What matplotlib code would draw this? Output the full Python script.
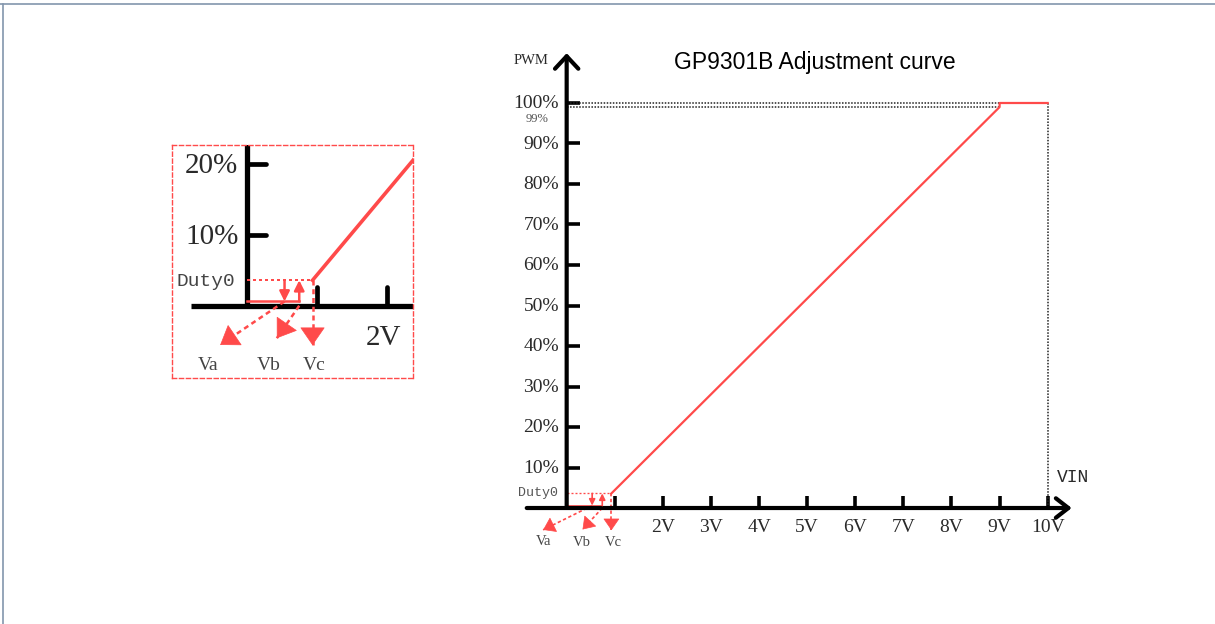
import matplotlib
matplotlib.use('Agg')
import matplotlib.pyplot as plt
from matplotlib.lines import Line2D

# ---- data ----
volt_ticks = [1, 2, 3, 4, 5, 6, 7, 8, 9, 10]
volt_labels = ['', '2V', '3V', '4V', '5V', '6V', '7V', '8V', '9V', '10V']
pwm_ticks = [10, 20, 30, 40, 50, 60, 70, 80, 90, 100]
pwm_labels = ['10%', '20%', '30%', '40%', '50%', '60%', '70%', '80%', '90%', '100%']

duty0 = 3.6          # % at turn-on
va, vb, vc = 0.53, 0.74, 0.93   # volts
low_level = 0.6      # % (drawn just above the axis)
curve_v = [vc, 9, 9, 10]
curve_pwm = [duty0, 99, 100, 100]

inset_volt_ticks = [1, 2]
inset_pwm_ticks = [10, 20]
inset_pwm_labels = ['10%', '20%']

RED = '#ff4a4a'
SERIF = 'Liberation Serif'
MONO = 'Liberation Mono'
TXT = '#2a2a2a'

fig = plt.figure(figsize=(12.15, 6.24), dpi=100)

# outer frame (top + left edge)
fig.add_artist(Line2D([0, 1], [0.9935, 0.9935], color='#8396ad', lw=1.2))
fig.add_artist(Line2D([0.0025, 0.0025], [0, 0.9935], color='#8396ad', lw=1.2))


def dotted_arrow(ax, start, tip, lw, head):
    # dashed shaft + solid filled head
    ax.plot([start[0], tip[0]], [start[1], tip[1]], color=RED, lw=lw,
            ls=(0, (2, 1.5)), clip_on=False)
    back = (tip[0] - 0.2 * (tip[0] - start[0]), tip[1] - 0.2 * (tip[1] - start[1]))
    ax.annotate('', xy=tip, xytext=back,
                arrowprops=dict(arrowstyle='-|>,head_length=0.55,head_width=0.38',
                                color=RED, lw=0.5, mutation_scale=head,
                                shrinkA=0, shrinkB=0),
                annotation_clip=False)


def draw_detail(ax, lw, small_head, big_head, tips, lbl_pos, fs):
    # hysteresis sketch around turn-on
    ax.plot([0, vc], [duty0, duty0], color=RED, ls=(0, (1.5, 1.5)), lw=lw * 0.8)
    ax.plot([0, vb], [low_level, low_level], color=RED, lw=lw)
    ax.annotate('', xy=(va, low_level), xytext=(va, duty0),
                arrowprops=dict(arrowstyle='-|>,head_length=0.6,head_width=0.3',
                                color=RED, lw=lw,
                                mutation_scale=small_head, shrinkA=0, shrinkB=0))
    ax.annotate('', xy=(vb, duty0), xytext=(vb, low_level),
                arrowprops=dict(arrowstyle='-|>,head_length=0.6,head_width=0.3',
                                color=RED, lw=lw,
                                mutation_scale=small_head, shrinkA=0, shrinkB=0))
    starts = [(va, low_level), (vb, 0), (vc, duty0)]
    for s, t, (lx, ly), name in zip(starts, tips, lbl_pos, ['Va', 'Vb', 'Vc']):
        dotted_arrow(ax, s, t, lw, big_head)
        ax.text(lx, ly, name, ha='center', va='center', fontsize=fs,
                family=SERIF, color='#444444')


# ---- main chart ----
ax = fig.add_axes([0.4268, 0.108, 0.4751, 0.8243])
ax.set_xlim(-1, 11)
ax.set_ylim(-12, 115)
ax.axis('off')

ax.annotate('', xy=(0, 112.3), xytext=(0, 0),
            arrowprops=dict(arrowstyle='->,head_length=0.45,head_width=0.42',
                            color='black', lw=3, mutation_scale=20,
                            shrinkA=0, shrinkB=0))
ax.annotate('', xy=(10.5, 0), xytext=(-0.83, 0),
            arrowprops=dict(arrowstyle='->,head_length=0.45,head_width=0.35',
                            color='black', lw=3, mutation_scale=20,
                            shrinkA=0, shrinkB=0))
for p, lab in zip(pwm_ticks, pwm_labels):
    ax.plot([0, 0.28], [p, p], color='black', lw=2.6, solid_capstyle='butt')
    ax.text(-0.16, p - 0.2, lab, ha='right', va='center', fontsize=14,
            family=SERIF, color=TXT)
ax.text(-0.37, 96.0, '99%', ha='right', va='center', fontsize=9,
        family=SERIF, color='#555555')
for v, lab in zip(volt_ticks, volt_labels):
    ax.plot([v, v], [0, 2.9], color='black', lw=2.6, solid_capstyle='butt')
    ax.text(v, -4.7, lab, ha='center', va='center', fontsize=14,
            family=SERIF, color=TXT)

# guide lines
ax.plot([0, 10], [100, 100], color='#222222', ls=(0, (1, 1)), lw=1.1)
ax.plot([0, 9], [99, 99], color='#222222', ls=(0, (1, 1)), lw=1.1)
ax.plot([10, 10], [0, 100], color='#222222', ls=(0, (1, 1)), lw=1.1)

ax.plot(curve_v, curve_pwm, color=RED, lw=1.6)

ax.text(-0.75, 110.5, 'PWM', ha='center', va='center', fontsize=10.5,
        family=SERIF, color=TXT)
ax.text(10.2, 7.6, 'VIN', ha='left', va='center', fontsize=13,
        family=MONO, color=TXT)
ax.text(-0.18, duty0, 'Duty0', ha='right', va='center', fontsize=9.6,
        family=MONO, color='#555555')
ax.text(5.16, 110.1, 'GP9301B Adjustment curve', ha='center', va='center',
        fontsize=16.5, family='Liberation Sans', color='black')

draw_detail(ax, 1.2, 6, 14,
            tips=[(-0.49, -5.4), (0.33, -5.3), (vc, -5.5)],
            lbl_pos=[(-0.49, -8.2), (0.31, -8.4), (0.97, -8.4)], fs=10.5)

# ---- zoomed inset ----
ins = fig.add_axes([0.1413, 0.3942, 0.1988, 0.3734])
ins.set_xlim(-1.083, 2.369)
ins.set_ylim(-10.23, 22.73)
ins.set_xticks([])
ins.set_yticks([])
for sp in ins.spines.values():
    sp.set_color(RED)
    sp.set_linestyle((0, (3, 2)))
    sp.set_linewidth(1.0)
    sp.set_zorder(5)

ins.plot([0, 0], [0, 23], color='black', lw=3.8, solid_capstyle='butt')
ins.plot([-0.8, 2.5], [0, 0], color='black', lw=3.8, solid_capstyle='butt')
for p, lab in zip(inset_pwm_ticks, inset_pwm_labels):
    ins.plot([0, 0.27], [p, p], color='black', lw=3.4, solid_capstyle='round')
    ins.text(-0.13, p - 0.3, lab, ha='right', va='center', fontsize=21,
             family=SERIF, color=TXT)
for v in inset_volt_ticks:
    ins.plot([v, v], [0, 2.7], color='black', lw=3.4, solid_capstyle='round')
ins.text(1.95, -4.5, '2V', ha='center', va='center', fontsize=21,
         family=SERIF, color=TXT)
ins.text(-0.18, duty0 - 0.2, 'Duty0', ha='right', va='center', fontsize=14,
         family=MONO, color='#444444')

ins.plot(curve_v, curve_pwm, color=RED, lw=2.6)

draw_detail(ins, 1.8, 10, 22,
            tips=[(-0.39, -5.55), (0.42, -4.6), (vc, -5.6)],
            lbl_pos=[(-0.56, -8.4), (0.3, -8.4), (0.95, -8.4)], fs=14)

fig.savefig('out.png', dpi=100)
